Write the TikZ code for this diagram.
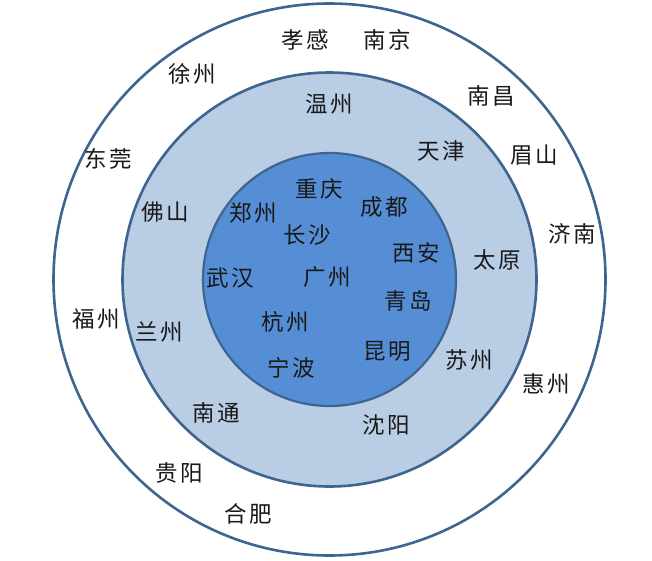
\documentclass[tikz,border=0pt]{standalone}
\usepackage{fontspec}
\newfontfamily\cjk{Noto Sans CJK SC}
\newcommand\pairtxt[2]{#1\hspace{2.5pt}#2}
\definecolor{ringline}{HTML}{3E6590}
\definecolor{midfill}{HTML}{B9CDE5}
\definecolor{innerfill}{HTML}{558ED5}
\tikzset{
  ring/.style={draw=ringline, line width=2.6pt},
  city/.style={font=\cjk\fontsize{22.5}{22.5}\selectfont, inner sep=0pt, text=black!90}
}
\begin{document}
\begin{tikzpicture}[x=1pt,y=-1pt]
\useasboundingbox (0,0) rectangle (652,560);
\coordinate (c) at (329.5,279.5);
\draw[ring, fill=white] (c) circle[radius=276];
\draw[ring, fill=midfill] (c) circle[radius=207];
\draw[ring, fill=innerfill, line width=2.2pt] (c) circle[radius=126.5];
% outer ring
\node[city] (xiaogan) at (305,40) {\pairtxt{孝}{感}};
\node[city] (nanjing) at (387,40) {\pairtxt{南}{京}};
\node[city] (xuzhou) at (192.5,74) {\pairtxt{徐}{州}};
\node[city] (nanchang) at (491,96) {\pairtxt{南}{昌}};
\node[city] (dongguan) at (108,159) {\pairtxt{东}{莞}};
\node[city] (meishan) at (534,155) {\pairtxt{眉}{山}};
\node[city] (jinan) at (572,234) {\pairtxt{济}{南}};
\node[city] (fuzhou) at (96,319) {\pairtxt{福}{州}};
\node[city] (huizhou) at (546,384) {\pairtxt{惠}{州}};
\node[city] (guiyang) at (179,473) {\pairtxt{贵}{阳}};
\node[city] (hefei) at (248,514) {\pairtxt{合}{肥}};
% middle ring
\node[city] (wenzhou) at (329,104) {\pairtxt{温}{州}};
\node[city] (tianjin) at (441,151) {\pairtxt{天}{津}};
\node[city] (foshan) at (165,212) {\pairtxt{佛}{山}};
\node[city] (taiyuan) at (497,260) {\pairtxt{太}{原}};
\node[city] (lanzhou) at (159,332) {\pairtxt{兰}{州}};
\node[city] (suzhou) at (469,360) {\pairtxt{苏}{州}};
\node[city] (nantong) at (216,413) {\pairtxt{南}{通}};
\node[city] (shenyang) at (386,425) {\pairtxt{沈}{阳}};
% inner circle
\node[city] (chongqing) at (319,189) {\pairtxt{重}{庆}};
\node[city] (zhengzhou) at (253,213) {\pairtxt{郑}{州}};
\node[city] (chengdu) at (384,207) {\pairtxt{成}{都}};
\node[city] (changsha) at (307,235) {\pairtxt{长}{沙}};
\node[city] (xian) at (416,253) {\pairtxt{西}{安}};
\node[city] (wuhan) at (230,278) {\pairtxt{武}{汉}};
\node[city] (guangzhou) at (327,277) {\pairtxt{广}{州}};
\node[city] (qingdao) at (408,301) {\pairtxt{青}{岛}};
\node[city] (hangzhou) at (285,322) {\pairtxt{杭}{州}};
\node[city] (kunming) at (387,351) {\pairtxt{昆}{明}};
\node[city] (ningbo) at (291,368) {\pairtxt{宁}{波}};
\end{tikzpicture}
\end{document}
